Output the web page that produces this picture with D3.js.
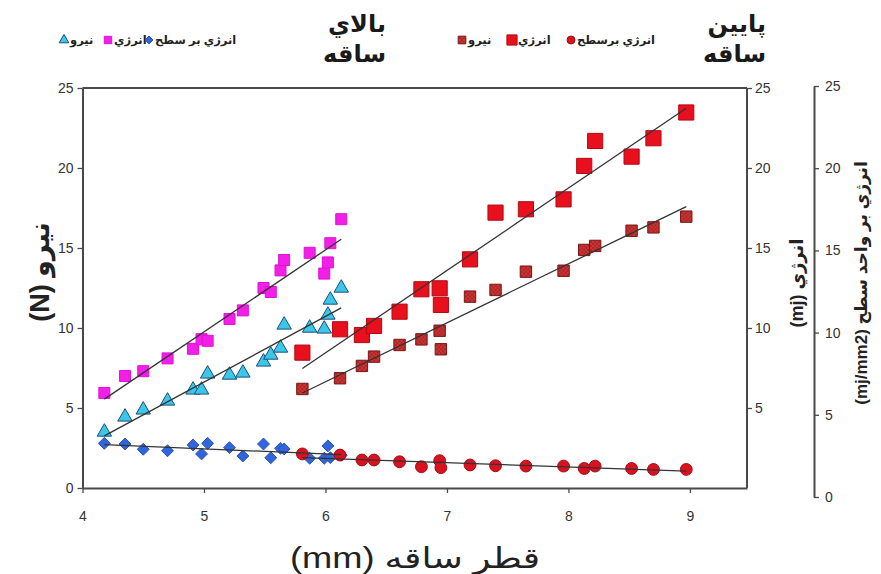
<!DOCTYPE html>
<html>
<head>
<meta charset="utf-8">
<script src="https://cdn.jsdelivr.net/npm/d3@7"></script>
<style>
    body { margin: 0; background: #fff; }
    svg { font-family: "Liberation Sans", "DejaVu Sans", sans-serif; }
</style>
</head>
<body>
<div id="chart"></div>
<script>
// upper stem (بالاي ساقه)
const upperDiameter = [4.18, 4.35, 4.5, 4.7, 4.91, 4.98, 5.03, 5.21, 5.32, 5.49, 5.55, 5.63, 5.66, 5.87, 5.99, 6.02, 6.04, 6.13];
const upperForce = [3.5, 4.44, 4.88, 5.44, 6.13, 6.13, 7.13, 7.06, 7.19, 7.88, 8.31, 8.75, 10.19, 10.0, 9.94, 10.81, 11.75, 12.5];
const upperEnergy = [5.94, 7.0, 7.3, 8.1, 8.7, 9.3, 9.2, 10.56, 11.1, 12.5, 12.25, 13.6, 14.25, 14.7, 13.4, 14.1, 15.3, 16.8];
const upperEnergyArea = [2.79, 2.75, 2.42, 2.33, 2.69, 2.13, 2.79, 2.52, 2.0, 2.75, 1.89, 2.48, 2.44, 1.86, 1.86, 2.63, 1.9, 2.05];

// lower stem (پايين ساقه)
const lowerDiameter = [5.81, 6.12, 6.30, 6.40, 6.61, 6.79, 6.94, 6.95, 7.19, 7.40, 7.65, 7.96, 8.13, 8.22, 8.52, 8.70, 8.97];
const lowerForce = [6.19, 6.86, 7.63, 8.21, 8.94, 9.29, 9.83, 8.67, 11.96, 12.38, 13.52, 13.58, 14.88, 15.13, 16.08, 16.29, 16.96];
const lowerEnergy = [8.46, 9.92, 9.56, 10.13, 11.02, 12.42, 12.48, 11.44, 14.29, 17.21, 17.42, 18.04, 20.13, 21.69, 20.71, 21.86, 23.47];
const lowerEnergyArea = [2.13, 2.06, 1.75, 1.75, 1.64, 1.33, 1.71, 1.27, 1.44, 1.39, 1.37, 1.37, 1.22, 1.37, 1.22, 1.16, 1.16];

const xTicks = [4, 5, 6, 7, 8, 9];
const leftTicks = [0, 5, 10, 15, 20, 25];
const midTicks = [5, 10, 15, 20, 25];
const rightTicks = [0, 5, 10, 15, 20, 25];

const upperTitle = ["بالاي", "ساقه"];
const lowerTitle = ["پايين", "ساقه"];
const upperLegend = ["نيرو", "انرژي", "انرژي بر سطح"];
const lowerLegend = ["نيرو", "انرژي", "انرژي برسطح"];

const width = 881;
const height = 574;

const svg = d3.select("#chart")
    .append("svg")
    .attr("width", width)
    .attr("height", height);

const defs = svg.append("defs");
const hatch = defs.append("pattern")
    .attr("id", "hatch")
    .attr("patternUnits", "userSpaceOnUse")
    .attr("width", 4)
    .attr("height", 4);
hatch.append("rect").attr("width", 4).attr("height", 4).attr("fill", "#cf3535");
hatch.append("path").attr("d", "M0,0L4,4M4,0L0,4").attr("stroke", "#8e1c1c").attr("stroke-width", 0.6);

const x = d3.scaleLinear().domain([4, 9.47]).range([82.5, 747]);
// all series sit on the primary scale, the right axes were added beside it
const y = d3.scaleLinear().domain([0, 25]).range([488, 88]);
const yMid = d3.scaleLinear().domain([0, 25]).range([488, 88]);
const yRight = d3.scaleLinear().domain([0, 25]).range([497, 86]);

const axisColor = "#4a4a4a";
const tickFont = "14px";

function styleAxis(g) {
    g.selectAll(".domain").attr("stroke", axisColor).attr("stroke-width", 2);
    g.selectAll(".tick line").attr("stroke", axisColor).attr("stroke-width", 1.3);
    g.selectAll(".tick text").attr("fill", "#333").style("font-size", tickFont);
}

// frame: top and right edges
svg.append("line")
    .attr("x1", x(4)).attr("x2", x(9.47))
    .attr("y1", y(25)).attr("y2", y(25))
    .attr("stroke", axisColor).attr("stroke-width", 2);
svg.append("line")
    .attr("x1", x(9.47)).attr("x2", x(9.47))
    .attr("y1", y(25)).attr("y2", y(0))
    .attr("stroke", axisColor).attr("stroke-width", 2);

svg.append("g")
    .attr("transform", `translate(${x(4)},0)`)
    .call(d3.axisLeft(y).tickValues(leftTicks).tickSize(5).tickSizeOuter(0).tickPadding(4))
    .call(styleAxis);

svg.append("g")
    .attr("transform", `translate(0,${y(0)})`)
    .call(d3.axisBottom(x).tickValues(xTicks).tickFormat(d3.format("d"))
        .tickSize(5).tickSizeOuter(0).tickPadding(18))
    .call(styleAxis);

const midAxis = svg.append("g")
    .attr("transform", `translate(${x(9.47)},0)`)
    .call(d3.axisRight(yMid).tickValues(midTicks).tickSize(5).tickSizeOuter(0).tickPadding(3))
    .call(styleAxis);
midAxis.select(".domain").remove();

svg.append("g")
    .attr("transform", "translate(814,0)")
    .call(d3.axisRight(yRight).tickValues(rightTicks).tickSize(5).tickSizeOuter(0).tickPadding(6))
    .call(styleAxis);

// axis titles
svg.append("text")
    .attr("transform", "translate(49,272) rotate(-90)")
    .attr("text-anchor", "middle")
    .style("font-size", "27px")
    .style("font-weight", "bold")
    .attr("fill", "#222")
    .text("(N) نيرو");

svg.append("text")
    .attr("transform", "translate(803,283) rotate(-90)")
    .attr("text-anchor", "middle")
    .style("font-size", "18px")
    .style("font-weight", "bold")
    .attr("fill", "#222")
    .text("(mj) انرژي");

svg.append("text")
    .attr("transform", "translate(867,283) rotate(-90)")
    .attr("text-anchor", "middle")
    .style("font-size", "17px")
    .style("font-weight", "bold")
    .attr("fill", "#222")
    .text("(mj/mm2) انرژي بر واحد سطح");

svg.append("text")
    .attr("x", 415)
    .attr("y", 568)
    .attr("text-anchor", "middle")
    .attr("textLength", 250)
    .attr("lengthAdjust", "spacingAndGlyphs")
    .style("font-size", "29px")
    .attr("fill", "#222")
    .text("(mm) قطر ساقه");

// series styles
const magenta = { fill: "#f21fe6", stroke: "#e010d8", shape: d3.symbolSquare, size: 121 };
const cyan = { fill: "#3cc6e8", stroke: "#1b4f7a", shape: d3.symbolTriangle, size: 90 };
const blue = { fill: "#3165db", stroke: "#2a52b0", shape: d3.symbolDiamond2, size: 90 };
const bigRed = { fill: "#e8101c", stroke: "#b20a14", shape: d3.symbolSquare, size: 230 };
const hatchRed = { fill: "url(#hatch)", stroke: "#7a1515", shape: d3.symbolSquare, size: 130 };
const redDot = { fill: "#d9121f", stroke: "#a50c16", shape: d3.symbolCircle, size: 110 };

const series = [
    { xs: upperDiameter, ys: upperEnergy, style: magenta },
    { xs: upperDiameter, ys: upperForce, style: cyan },
    { xs: upperDiameter, ys: upperEnergyArea, style: blue },
    { xs: lowerDiameter, ys: lowerEnergy, style: bigRed },
    { xs: lowerDiameter, ys: lowerForce, style: hatchRed },
    { xs: lowerDiameter, ys: lowerEnergyArea, style: redDot }
];

function fit(xs, ys) {
    const mx = d3.mean(xs);
    const my = d3.mean(ys);
    const b = d3.sum(xs, (v, i) => (v - mx) * (ys[i] - my)) / d3.sum(xs, v => (v - mx) ** 2);
    return v => my + b * (v - mx);
}

const plot = svg.append("g");

series.forEach(s => {
    const pts = s.xs.map((v, i) => [v, s.ys[i]]);
    plot.selectAll(null)
        .data(pts)
        .join("path")
        .attr("transform", d => `translate(${x(d[0])},${y(d[1])})`)
        .attr("d", d3.symbol(s.style.shape, s.style.size))
        .attr("fill", s.style.fill)
        .attr("stroke", s.style.stroke)
        .attr("stroke-width", 1);
});

// trend lines drawn over markers
series.forEach(s => {
    const f = fit(s.xs, s.ys);
    const ext = d3.extent(s.xs);
    plot.append("line")
        .attr("x1", x(ext[0])).attr("y1", y(f(ext[0])))
        .attr("x2", x(ext[1])).attr("y2", y(f(ext[1])))
        .attr("stroke", "#333")
        .attr("stroke-width", 1.3);
});

// legends
function legend(titles, labels, styles, markerX, titleX) {
    const g = svg.append("g");
    titles.forEach((t, i) => {
        g.append("text")
            .attr("x", titleX)
            .attr("y", 32 + i * 30)
            .attr("text-anchor", "end")
            .style("font-size", "24px")
            .style("font-weight", "bold")
            .attr("fill", "#1a1a1a")
            .text(t);
    });
    labels.forEach((l, i) => {
        g.append("path")
            .attr("transform", `translate(${markerX[i]},40)`)
            .attr("d", d3.symbol(styles[i].shape, styles[i].size * 0.45))
            .attr("fill", styles[i].fill)
            .attr("stroke", styles[i].stroke);
        g.append("text")
            .attr("x", markerX[i] + 6)
            .attr("y", 44)
            .style("font-size", "11.5px")
            .style("font-weight", "bold")
            .attr("fill", "#222")
            .text(l);
    });
}

legend(upperTitle, upperLegend, [cyan, magenta, blue], [64, 108, 149], 386);
legend(lowerTitle, lowerLegend, [hatchRed, bigRed, redDot], [462, 512, 571], 766);
</script>
</body>
</html>
